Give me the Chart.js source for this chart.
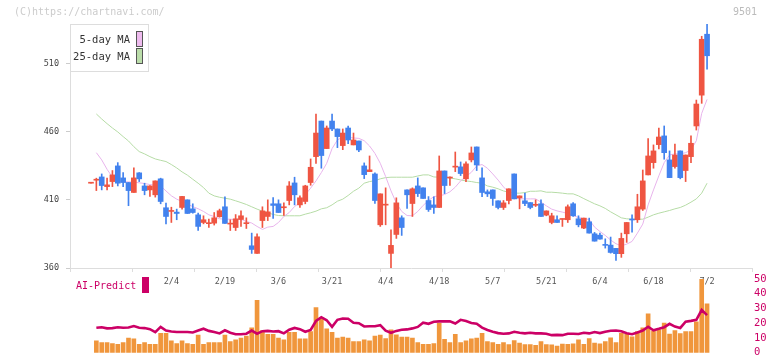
<!DOCTYPE html>
<html><head><meta charset="utf-8">
<script src="https://cdn.jsdelivr.net/npm/chart.js@4.4.1/dist/chart.umd.min.js"></script>
<style>
html,body{margin:0;padding:0;background:#fff;}
#wrap{position:relative;width:772px;height:361px;overflow:hidden;background:#fff;}
canvas{position:absolute;left:0;top:0;}
</style></head><body>
<div id="wrap"><canvas id="main" width="772" height="361"></canvas><canvas id="sub" width="772" height="361"></canvas></div>
<script>
// ---- data (trading days, index 0 = oldest) ----
const tickLabels = ['2/4','2/19','3/6','3/21','4/4','4/18','5/7','5/21','6/4','6/18','7/2'];
const tickIndex  = [15,25,35,45,55,65,75,85,95,105,115];
const priceTicks = [360,410,460,510];
const subTicks   = [0,10,20,30,40,50];

const openP = [422.2,424.4,426.8,419.7,423.4,434.9,426.1,422.7,415.4,429.8,
420.2,417.3,413.7,425.4,404.2,401.5,401.0,404.4,410.0,403.4,
399.0,393.4,392.5,392.9,397.6,404.9,392.2,389.7,395.6,392.5,
376.3,370.7,394.8,397.8,407.1,407.1,404.2,409.5,422.4,406.3,
408.8,422.7,441.7,467.8,447.6,467.8,462.0,449.8,462.7,450.3,
453.2,434.9,430.7,429.0,391.7,406.1,370.7,384.6,396.8,417.3,
407.3,420.2,418.8,409.5,406.3,404.4,431.2,426.0,434.0,434.2,
425.4,439.3,448.8,426.1,415.9,417.3,409.3,404.4,409.5,429.0,
411.4,409.3,408.0,406.0,407.1,398.8,393.4,395.4,395.6,395.4,
407.1,396.1,389.3,393.9,385.1,384.1,377.0,376.8,374.4,370.5,
385.1,395.6,395.4,403.2,428.3,437.3,450.5,456.9,439.3,434.4,
445.9,431.5,441.7,464.2,486.8,531.5];
const highP = [422.2,425.9,429.0,425.9,431.5,437.3,430.0,422.7,433.4,430.0,
422.2,420.5,423.9,425.9,407.6,404.6,403.2,412.5,410.0,407.1,
400.2,398.3,395.8,400.7,403.2,412.2,395.4,399.2,402.0,396.8,
385.6,385.1,404.9,410.0,411.7,410.0,407.8,423.4,426.6,412.9,
420.7,440.0,473.0,467.8,464.2,473.0,462.0,462.0,464.2,459.0,
453.2,437.1,442.2,429.8,414.4,418.8,388.0,411.5,398.3,417.3,
418.8,426.1,418.8,412.4,412.2,442.2,431.2,426.8,445.1,437.8,
437.8,448.8,448.8,433.4,417.3,417.3,409.3,409.5,418.1,429.0,
412.9,414.9,408.0,410.0,410.0,401.9,400.2,398.3,396.0,406.3,
408.0,398.3,396.6,396.6,386.1,385.6,381.4,382.7,374.4,385.6,
393.4,399.0,414.1,431.9,454.9,450.3,462.7,464.2,445.9,451.0,
445.9,442.9,456.9,483.2,530.0,538.8];
const lowP = [422.2,416.8,417.3,417.3,419.7,420.2,419.7,405.7,415.4,423.4,
413.7,412.5,412.0,407.1,392.4,393.4,395.4,403.2,400.0,400.2,
387.5,392.4,389.7,391.5,397.3,392.7,387.5,387.5,390.5,389.0,
370.7,370.7,389.7,394.8,396.3,400.7,398.5,406.3,406.3,404.4,
407.1,420.7,436.8,433.2,447.6,460.8,448.3,446.8,451.2,450.3,
445.4,425.6,430.7,407.3,390.5,391.7,359.0,381.7,383.9,403.7,
397.8,412.4,411.0,401.5,400.0,404.4,414.6,420.5,430.7,427.8,
423.4,437.8,431.5,412.4,412.4,405.9,403.4,402.9,407.1,410.7,
403.4,405.8,403.4,405.1,397.8,398.3,392.4,393.4,390.5,393.4,
397.8,390.2,388.8,385.6,379.7,381.2,374.6,370.9,365.6,367.8,
378.8,386.3,393.4,402.2,428.3,433.2,447.3,439.8,426.3,433.2,
425.4,423.4,437.3,461.2,480.8,505.9];
const closeP = [422.2,424.8,420.5,421.0,428.3,422.2,422.7,416.8,426.1,425.4,
416.8,420.2,423.9,408.8,397.8,401.9,400.0,412.5,400.0,400.7,
390.5,395.4,392.9,396.8,402.0,392.7,392.6,396.1,398.3,392.9,
373.6,382.9,401.9,401.2,405.9,400.7,404.6,420.2,413.7,411.5,
420.2,433.9,459.0,442.5,462.7,462.0,456.4,459.0,453.9,453.9,
446.6,428.5,432.0,409.5,414.4,406.5,376.6,407.8,389.7,413.7,
418.1,414.6,411.0,402.9,404.4,431.2,420.5,426.2,434.4,429.3,
436.4,444.4,435.6,415.4,414.4,411.0,404.4,407.8,418.1,410.7,
412.9,407.3,404.4,406.2,397.8,401.9,398.3,393.4,396.0,404.9,
398.3,391.7,396.6,385.6,379.7,381.2,376.6,371.4,370.5,381.7,
393.4,395.2,404.9,423.9,442.2,445.9,456.1,444.6,426.3,442.9,
426.3,442.9,451.5,480.3,527.8,515.7];
const ma5 = [null,444.6,439.3,432.4,426.6,424.0,423.2,423.2,423.0,422.5,
422.0,421.2,420.8,420.2,416.5,413.0,410.5,408.8,407.0,405.0,
403.5,401.5,399.0,397.8,396.1,395.8,395.8,395.4,395.8,394.1,
393.0,390.5,388.3,390.0,390.5,393.4,397.8,400.7,405.1,408.0,
413.7,418.6,423.9,430.0,436.8,447.6,453.9,456.1,455.9,455.4,
455.1,453.4,449.5,444.1,436.8,427.1,416.6,407.6,401.5,398.5,
398.3,401.5,405.9,409.5,412.4,412.9,413.9,415.9,419.3,423.9,
427.1,430.2,434.9,435.9,433.2,429.0,424.5,419.5,415.5,411.5,
410.7,410.7,410.7,410.7,408.3,405.6,403.2,401.9,401.0,400.0,
398.5,397.0,396.3,395.6,390.0,386.8,383.9,380.5,377.8,376.3,
377.5,379.5,385.6,392.2,406.3,417.3,427.6,437.3,442.9,443.7,
443.7,444.6,446.6,453.4,473.4,483.7];
const ma25 = [null,473.0,469.3,465.9,462.7,459.8,456.4,453.2,449.0,445.4,
443.7,441.7,440.0,439.0,438.1,435.9,433.4,430.5,428.1,425.1,
422.2,419.0,414.9,412.9,411.9,411.2,410.5,409.3,408.0,406.6,
404.9,403.2,401.7,400.5,399.3,398.5,398.3,398.3,398.3,398.3,
399.5,400.5,401.7,403.4,404.2,406.3,409.0,410.5,413.2,416.3,
418.6,422.2,423.4,424.1,425.4,426.3,426.6,426.6,426.6,426.6,
426.6,427.5,428.3,428.3,426.8,426.6,426.6,426.1,425.4,424.6,
423.9,423.4,422.7,422.2,420.2,419.3,418.1,416.5,415.6,414.9,
414.9,415.3,416.3,416.3,416.6,415.6,415.6,415.3,414.9,414.4,
414.4,412.9,410.9,409.0,407.1,405.6,403.7,401.2,399.0,396.8,
396.1,395.8,395.8,395.8,397.3,399.0,400.2,401.2,402.2,403.4,
404.4,406.1,408.3,410.7,414.9,422.2];
const volume = [null,8.1,6.9,6.9,6.25,5.6,6.9,10.0,9.4,5.6,
6.9,5.6,5.6,13.1,13.1,8.1,6.25,8.1,6.25,5.6,
11.9,5.6,6.9,6.9,6.9,11.9,7.5,8.75,10.0,11.25,
16.9,35.6,15.0,12.5,12.5,10.0,8.75,13.75,13.75,9.4,
9.4,14.4,30.6,23.75,16.25,13.75,10.0,10.6,10.0,7.5,
7.5,8.75,8.1,11.25,11.9,9.5,15.5,12.2,10.6,10.6,
10.0,6.9,5.6,5.6,6.25,20.0,9.0,6.9,12.5,6.9,
8.1,9.4,10.0,13.1,7.5,6.9,5.6,6.8,5.5,8.2,
6.5,5.5,5.5,5.0,7.5,5.5,5.4,4.5,5.8,5.6,
6.1,8.75,5.7,9.5,6.5,6.0,7.5,10.1,6.9,13.1,
12.5,10.8,14.4,16.9,26.4,14.7,15.6,20.1,12.7,15.0,
13.0,14.4,14.4,21.0,50.0,33.1];
const aiPredict = [null,16.9,17.3,16.5,16.7,17.3,16.9,17.1,18.1,16.9,
16.7,16.0,14.0,17.5,15.0,14.4,14.0,14.0,14.0,13.75,
15.0,16.25,14.8,14.0,13.1,15.2,13.5,12.5,12.5,12.9,
15.0,12.9,14.6,14.8,14.4,14.6,13.1,15.6,16.8,16.0,
14.2,15.4,21.5,24.1,22.0,17.5,22.3,23.2,23.0,20.3,
20.0,17.8,17.9,17.9,18.7,14.9,13.5,14.8,15.6,15.8,
16.5,17.5,20.4,19.6,21.0,21.25,21.25,21.25,19.8,22.3,
21.5,20.2,19.6,17.0,15.4,14.2,13.3,12.9,13.1,14.2,
13.5,13.1,13.5,13.1,13.1,12.9,11.9,12.1,11.9,12.9,
12.9,12.7,13.5,13.1,14.0,13.3,14.2,14.9,15.1,14.6,
13.2,12.5,13.7,15.0,17.6,15.2,16.2,17.3,19.6,17.7,
16.8,21.0,21.6,22.3,29.0,25.5];

// ---- styling / layout ----
const UP = '#ef5542', DOWN = '#4282ee';
const X_MIN = -3.92, X_MAX = 123.39;
const MONO = '"DejaVu Sans Mono", monospace';
const idx = openP.map((_, i) => i);
const candleColors = idx.map(i => closeP[i] >= openP[i] ? UP : DOWN);
const gridTicks = Array.from({length: 12}, (_, k) => X_MIN + k * (X_MAX - X_MIN) / 11);

const mainOverlay = {
  id: 'mainOverlay',
  afterDraw(chart) {
    const ctx = chart.ctx;
    ctx.save();
    ctx.font = '10px ' + MONO;
    ctx.textBaseline = 'middle';
    ctx.fillStyle = '#cccccc';
    ctx.textAlign = 'left';
    ctx.fillText('(C)https://chartnavi.com/', 14, 12);
    ctx.fillStyle = '#bbbbbb';
    ctx.textAlign = 'right';
    ctx.fillText('9501', 757, 12);
    // legend
    ctx.fillStyle = '#ffffff';
    ctx.fillRect(70, 24, 78, 48);
    ctx.strokeStyle = '#dddddd';
    ctx.lineWidth = 1;
    ctx.strokeRect(70.5, 24.5, 78, 47);
    ctx.fillStyle = '#333333';
    ctx.font = '10.5px ' + MONO;
    ctx.fillText('5-day MA', 130, 40);
    ctx.fillText('25-day MA', 130, 57);
    ctx.fillStyle = '#eebbee';
    ctx.fillRect(136, 31, 6, 15);
    ctx.fillStyle = '#bbddaa';
    ctx.fillRect(136, 48, 6, 15);
    ctx.strokeStyle = '#555555';
    ctx.strokeRect(136.5, 31.5, 6, 15);
    ctx.strokeRect(136.5, 48.5, 6, 15);
    ctx.restore();
  }
};

const subOverlay = {
  id: 'subOverlay',
  afterDraw(chart) {
    const ctx = chart.ctx;
    ctx.save();
    ctx.font = '10px ' + MONO;
    ctx.textBaseline = 'middle';
    ctx.textAlign = 'left';
    ctx.fillStyle = '#cc0066';
    ctx.fillText('AI-Predict', 76, 286);
    ctx.fillRect(142, 277, 7, 16);
    ctx.restore();
  }
};

new Chart(document.getElementById('main'), {
  type: 'bar',
  data: {
    datasets: [
      { type: 'bar', label: 'body', data: idx.map(i => ({x: i, y: [openP[i], closeP[i]]})),
        backgroundColor: candleColors, barThickness: 5, grouped: false, minBarLength: 1, order: 1 },
      { type: 'bar', label: 'wick', data: idx.map(i => ({x: i, y: [lowP[i], highP[i]]})),
        backgroundColor: candleColors, barThickness: 1, grouped: false, order: 2 },
      { type: 'line', label: '5-day MA', data: idx.map(i => ({x: i, y: ma5[i]})),
        borderColor: '#e8b4ec', borderWidth: 1, pointRadius: 0, tension: 0, fill: false, order: 3 },
      { type: 'line', label: '25-day MA', data: idx.map(i => ({x: i, y: ma25[i]})),
        borderColor: '#b6dca6', borderWidth: 1, pointRadius: 0, tension: 0, fill: false, order: 4 }
    ]
  },
  options: {
    responsive: false, devicePixelRatio: 1, animation: false, events: [],
    layout: { padding: { top: 24, left: 0, right: 20, bottom: 73 } },
    plugins: { legend: { display: false }, tooltip: { enabled: false } },
    scales: {
      x: {
        type: 'linear', min: X_MIN, max: X_MAX, offset: false,
        afterBuildTicks: s => {
          const t = gridTicks.map(v => ({value: v, kind: 'grid', text: ''}))
            .concat(tickIndex.map((v, k) => ({value: v, kind: 'label', text: tickLabels[k]})));
          t.sort((a, b) => a.value - b.value);
          s.ticks = t;
        },
        afterFit: s => { s.height = 20; },
        grid: { offset: false, drawOnChartArea: false, tickLength: 4,
          tickColor: c => (c.tick && c.tick.kind === 'grid') ? '#dddddd' : 'rgba(0,0,0,0)' },
        border: { color: '#dddddd' },
        ticks: { autoSkip: false, maxRotation: 0, minRotation: 0, padding: 5, color: '#555555',
          font: { family: MONO, size: 8.5 },
          callback: (v, i, t) => t[i] ? t[i].text : '' }
      },
      y: {
        min: 360, max: 539,
        afterBuildTicks: s => { s.ticks = priceTicks.map(v => ({value: v})); },
        afterFit: s => { s.width = 70; },
        grid: { drawOnChartArea: false, tickLength: 4, tickColor: '#cccccc' },
        border: { color: '#dddddd' },
        ticks: { autoSkip: false, padding: 7, color: '#444444', font: { family: MONO, size: 8.5 } }
      }
    }
  },
  plugins: [mainOverlay]
});

new Chart(document.getElementById('sub'), {
  type: 'bar',
  data: {
    datasets: [
      { type: 'line', label: 'AI-Predict', data: idx.map(i => ({x: i, y: aiPredict[i]})),
        borderColor: '#cc0066', borderWidth: 2.6, pointRadius: 0, tension: 0, fill: false, order: 1 },
      { type: 'bar', label: 'volume', data: idx.map(i => ({x: i, y: volume[i]})),
        backgroundColor: '#f0963c', barThickness: 4, grouped: false, order: 2 }
    ]
  },
  options: {
    responsive: false, devicePixelRatio: 1, animation: false, events: [],
    layout: { padding: { top: 279, left: 70, right: 0, bottom: 2 } },
    plugins: { legend: { display: false }, tooltip: { enabled: false } },
    scales: {
      x: { type: 'linear', min: X_MIN, max: X_MAX, offset: false, display: false, grid: { offset: false } },
      y: {
        position: 'right', min: 0, max: 50,
        afterBuildTicks: s => { s.ticks = subTicks.map(v => ({value: v})); },
        afterFit: s => { s.width = 20; },
        grid: { display: false, drawTicks: false },
        border: { display: false },
        ticks: { autoSkip: false, padding: 2, color: '#cc0066', font: { family: MONO, size: 10.5 } }
      }
    }
  },
  plugins: [subOverlay]
});
</script>
</body></html>
